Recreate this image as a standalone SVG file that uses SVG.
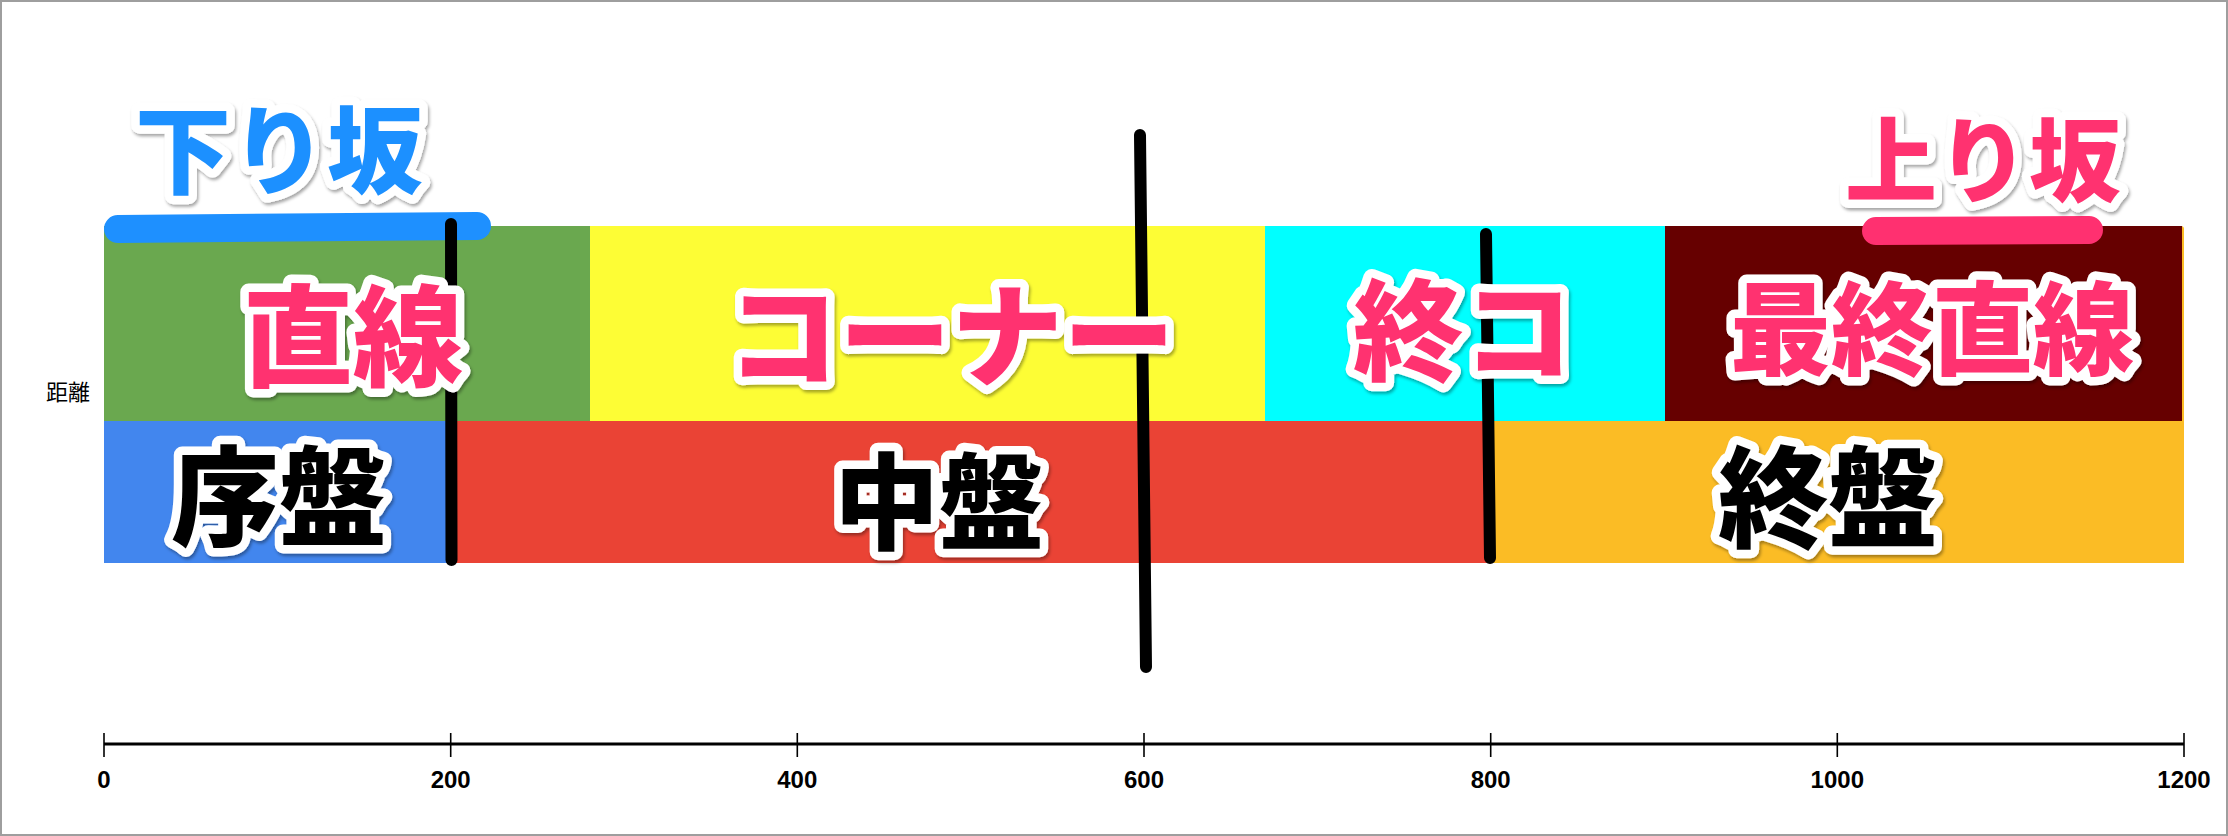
<svg xmlns="http://www.w3.org/2000/svg" width="2228" height="836" viewBox="0 0 2228 836">
<defs>
<filter id="sh" x="-10%" y="-20%" width="120%" height="140%">
<feDropShadow dx="1.5" dy="2.5" stdDeviation="1.5" flood-color="#000" flood-opacity="0.35"/>
</filter>
</defs>
<style>
.big{font-family:"Noto Sans CJK JP","Noto Sans CJK SC",sans-serif;font-weight:900;text-anchor:middle;stroke:#fff;stroke-width:17;stroke-linejoin:round;paint-order:stroke;filter:url(#sh)}
.pink{fill:#ff3070}
.blk{fill:#000}
.blu{fill:#1e90ff}
.tick{stroke:#000;stroke-width:1.6}
.lbl{font-family:"Liberation Sans",Arial,sans-serif;font-weight:bold;font-size:24px;text-anchor:middle;fill:#000}
.div{stroke:#000;stroke-width:12;stroke-linecap:round;fill:none}
</style>
<rect x="0" y="0" width="2228" height="836" fill="#fff"/>
<rect x="1" y="1" width="2226" height="834" fill="none" stroke="#9e9e9e" stroke-width="2"/>

<g id="axis">
<line x1="104" y1="744" x2="2184" y2="744" stroke="#000" stroke-width="3"/>
<line class="tick" x1="104" y1="733" x2="104" y2="757"/>
<line class="tick" x1="450.7" y1="733" x2="450.7" y2="757"/>
<line class="tick" x1="797.3" y1="733" x2="797.3" y2="757"/>
<line class="tick" x1="1144" y1="733" x2="1144" y2="757"/>
<line class="tick" x1="1490.7" y1="733" x2="1490.7" y2="757"/>
<line class="tick" x1="1837.3" y1="733" x2="1837.3" y2="757"/>
<line class="tick" x1="2184" y1="733" x2="2184" y2="757"/>
<text class="lbl" x="104" y="788">0</text>
<text class="lbl" x="450.7" y="788">200</text>
<text class="lbl" x="797.3" y="788">400</text>
<text class="lbl" x="1144" y="788">600</text>
<text class="lbl" x="1490.7" y="788">800</text>
<text class="lbl" x="1837.3" y="788">1000</text>
<text class="lbl" x="2184" y="788">1200</text>
</g>

<text id="ylabel" x="68" y="400" font-family="Noto Sans CJK JP, sans-serif" font-size="22" text-anchor="middle" fill="#000">距離</text>

<g id="orange-bg"><rect x="1491" y="226" width="693" height="337" rx="3" fill="#fbbc25"/></g>
<g id="seg-straight"><rect x="104" y="226" width="486" height="195" fill="#6aa84f"/></g>
<g id="seg-corner"><rect x="590" y="226" width="675" height="195" fill="#fdfd35"/></g>
<g id="seg-final-corner"><rect x="1265" y="226" width="400" height="195" fill="#00ffff"/></g>
<g id="seg-final-straight"><rect x="1665" y="226" width="517" height="195" fill="#660000"/></g>
<g id="seg-early"><rect x="104" y="421" width="347" height="142" fill="#4286ee"/></g>
<g id="seg-middle"><rect x="451" y="421" width="1040" height="142" fill="#ea4335"/></g>
<g id="seg-late"><rect x="1491" y="421" width="693" height="142" fill="#fbbc25"/></g>

<g id="slopes">
<line x1="118" y1="229" x2="477" y2="226" stroke="#1e90ff" stroke-width="28" stroke-linecap="round"/>
<line x1="1876" y1="231" x2="2089" y2="230" stroke="#ff3070" stroke-width="28" stroke-linecap="round"/>
</g>

<g id="dividers">
<line class="div" x1="451" y1="224" x2="451.5" y2="560"/>
<line class="div" x1="1140" y1="135" x2="1146" y2="667"/>
<line class="div" x1="1486" y1="234" x2="1490" y2="558"/>
</g>

<g id="labels">
<text class="big blu" x="279" y="186" font-size="96">下り坂</text>
<text class="big pink" x="1983" y="195" font-size="92">上り坂</text>
<text class="big pink" x="353" y="378" font-size="110">直線</text>
<text class="big pink" x="951" y="378" font-size="112">コーナー</text>
<text class="big pink" x="1463" y="372" font-size="110">終コ</text>
<text class="big pink" x="1932" y="367" font-size="101">最終直線</text>
<text class="big blk" x="279" y="537" font-size="108">序盤</text>
<text class="big blk" x="939" y="541" font-size="105">中盤</text>
<text class="big blk" x="1828" y="539" font-size="110">終盤</text>
</g>
</svg>
